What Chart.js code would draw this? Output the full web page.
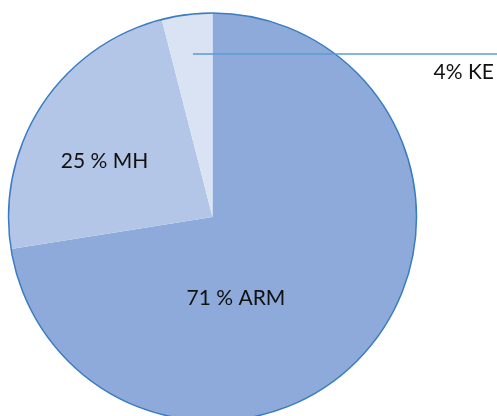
<!DOCTYPE html>
<html>
<head>
<meta charset="utf-8">
<script src="https://cdn.jsdelivr.net/npm/chart.js@4/dist/chart.umd.min.js"></script>
<style>
  html, body { margin: 0; padding: 0; background: #fff; overflow: hidden; }
  #wrap { position: relative; width: 497px; height: 421px; }
</style>
</head>
<body>
<div id="wrap"><canvas id="pie"></canvas></div>
<script>
const categories = ['ARM', 'MH', 'KE'];
const shares = [72.5, 23.5, 4];
const sliceLabels = ['71 % ARM', '25 % MH', '4% KE'];
const sliceColors = ['#8eaadb', '#b4c6e7', '#dae3f3'];

// label placement, relative to pie centre in units of radius
const labelPos = [[0.115, 0.397], [-0.529, -0.275]];

const outlinePlugin = {
  id: 'outline',
  afterDatasetsDraw(chart) {
    const arc = chart.getDatasetMeta(0).data[0];
    const { x, y, outerRadius: r } = arc;
    const ctx = chart.ctx;
    ctx.save();
    // outer ring only
    ctx.beginPath();
    ctx.arc(x, y, r, 0, Math.PI * 2);
    ctx.strokeStyle = '#3a7cc0';
    ctx.lineWidth = 1.5;
    ctx.stroke();

    ctx.font = '21px Lato, "Open Sans", sans-serif';
    ctx.fillStyle = '#111';
    ctx.textBaseline = 'middle';
    ctx.textAlign = 'center';
    labelPos.forEach((p, i) => {
      ctx.fillText(sliceLabels[i], x + p[0] * r, y + p[1] * r);
    });

    // leader line for the small slice
    const ly = y - 0.799 * r;
    ctx.beginPath();
    ctx.moveTo(x - 0.096 * r, ly);
    ctx.lineTo(chart.width, ly);
    ctx.strokeStyle = '#5b9bd5';
    ctx.lineWidth = 1.5;
    ctx.stroke();
    ctx.textAlign = 'right';
    ctx.fillText(sliceLabels[2], chart.width - 3, ly + 18);
    ctx.restore();
  }
};

new Chart(document.getElementById('pie'), {
  type: 'pie',
  data: {
    labels: categories,
    datasets: [{
      data: shares,
      backgroundColor: sliceColors,
      borderWidth: 0
    }]
  },
  options: {
    responsive: true,
    maintainAspectRatio: false,
    animation: false,
    layout: { padding: { left: 8.5, right: 80.5, top: 13, bottom: 0 } },
    plugins: {
      legend: { display: false },
      tooltip: { enabled: false }
    }
  },
  plugins: [outlinePlugin]
});
</script>
</body>
</html>
